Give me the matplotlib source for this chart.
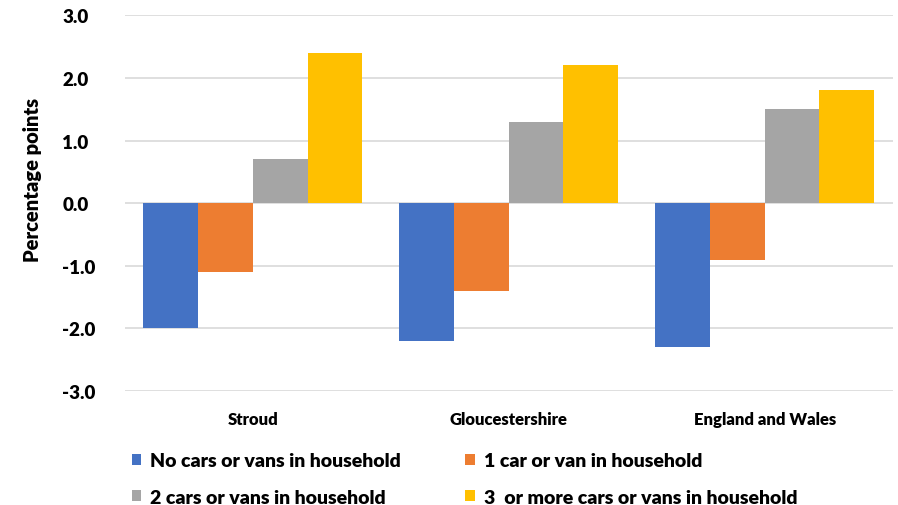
import matplotlib.pyplot as plt
import numpy as np

plt.rcParams['font.family'] = ['Lato', 'DejaVu Sans']
plt.rcParams['font.weight'] = 'heavy'

areas = ['Stroud', 'Gloucestershire', 'England and Wales']
series = ['No cars or vans in household', '1 car or van in household',
          '2 cars or vans in household', '3  or more cars or vans in household']
no_car = [-2.0, -2.2, -2.3]
one_car = [-1.1, -1.4, -0.9]
two_cars = [0.7, 1.3, 1.5]
three_plus = [2.4, 2.2, 1.8]
colors = ['#4472C4', '#ED7D31', '#A5A5A5', '#FFC000']

fig = plt.figure(figsize=(8.98, 5.06), dpi=100)
ax = fig.add_axes([0.139, 0.225, 0.855, 0.743])

x = np.arange(len(areas))
w = 0.214
bars = []
for i, (vals, c, lab) in enumerate(zip([no_car, one_car, two_cars, three_plus], colors, series)):
    b = ax.bar(x + (i - 1.5) * w, vals, w, color=c, label=lab, zorder=3)
    bars.append(b)

ax.set_xlim(-0.5, 2.5)
ax.set_ylim(-3, 3)
ax.set_yticks(np.arange(-3, 3.1, 1))
ax.set_yticklabels(['%.1f' % v for v in np.arange(-3, 3.1, 1)], fontsize=13.5)
ax.set_xticks(x)
ax.set_xticklabels(areas, fontsize=12)
ax.tick_params(axis='both', length=0)
ax.tick_params(axis='y', pad=45)
ax.tick_params(axis='x', pad=14)
for t in ax.get_yticklabels():
    t.set_horizontalalignment('left')
ax.grid(axis='y', color='#D9D9D9', linewidth=1.2, zorder=0)
for s in ax.spines.values():
    s.set_visible(False)

fig.text(0.036, 0.645, 'Percentage points', rotation=90, fontsize=14.5,
         ha='center', va='center')

# legend: two rows, two columns
handles = [bars[0], bars[2], bars[1], bars[3]]
labels = [series[0], series[2], series[1], series[3]]
fig.legend(handles, labels, ncol=2, loc='upper left', bbox_to_anchor=(0.138, 0.12),
           frameon=False, fontsize=14, handlelength=0.5, handleheight=0.5,
           handletextpad=0.45, columnspacing=3.3, labelspacing=1.0, borderaxespad=0)

fig.savefig('out.png', dpi=100)
